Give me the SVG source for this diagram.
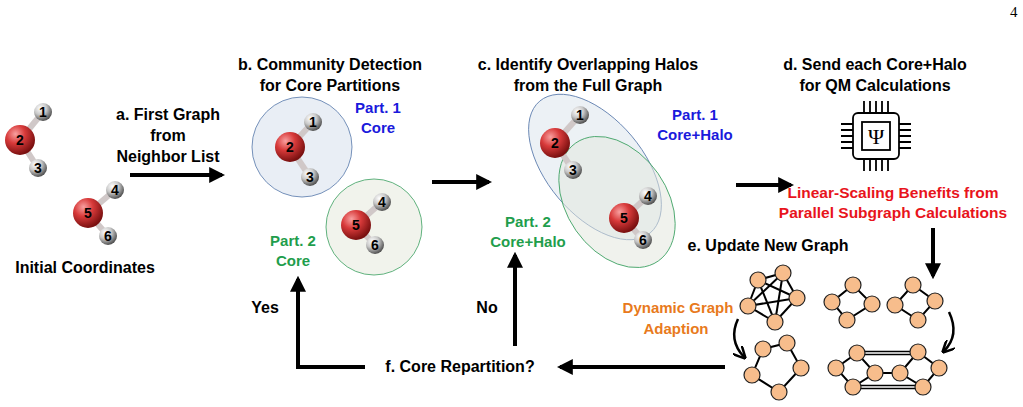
<svg xmlns="http://www.w3.org/2000/svg" width="1023" height="407" viewBox="0 0 1023 407">
<defs>
<radialGradient id="gO" cx="0.35" cy="0.3" r="0.7"><stop offset="0" stop-color="#f8a0a0"/><stop offset="0.45" stop-color="#d83a3a"/><stop offset="1" stop-color="#7a1010"/></radialGradient>
<radialGradient id="gH" cx="0.35" cy="0.3" r="0.7"><stop offset="0" stop-color="#ffffff"/><stop offset="0.5" stop-color="#c8c8c8"/><stop offset="1" stop-color="#555"/></radialGradient>
<marker id="ah" viewBox="0 0 10 10" refX="8" refY="5" markerWidth="4" markerHeight="4" orient="auto"><path d="M0,0 L10,5 L0,10 z" fill="#000"/></marker>
<marker id="ah2" viewBox="0 0 10 10" refX="8" refY="5" markerWidth="5" markerHeight="5" orient="auto"><path d="M0,0 L10,5 L0,10" fill="none" stroke="#000" stroke-width="2"/></marker>
</defs>
<style>
text{font-family:"Liberation Sans",Arial,sans-serif;font-weight:bold}
.t{font-size:16px;fill:#000;text-anchor:middle}
.b{font-size:15px;fill:#1a1adc;text-anchor:middle}
.g{font-size:15px;fill:#1f9e4c;text-anchor:middle}
.o{font-size:15px;fill:#e87a1c;text-anchor:middle}
.r{font-size:15.5px;fill:#e8141c;text-anchor:middle}
.O{fill:url(#gO)}
.H{fill:url(#gH)}
.n{font-size:14px;fill:#000;text-anchor:middle}
.bd{stroke:#d0c8c8;stroke-width:6}
.c line,.c path{stroke:#000;stroke-width:4;fill:none}
.gn circle{fill:#f7bd8c;stroke:#222;stroke-width:1.2}
.gn line{stroke:#000;stroke-width:2}
</style>
<text x="1010" y="17" style="font-family:'Liberation Serif',serif;font-weight:normal;font-size:15px">4</text>

<g id="nodeA">
<text class="t" x="168" y="120">a. First Graph</text>
<text class="t" x="168" y="141">from</text>
<text class="t" x="168" y="162">Neighbor List</text>
</g>
<g id="initial">
<line class="bd" x1="20" y1="140" x2="43" y2="112"/><line class="bd" x1="20" y1="140" x2="38" y2="168"/>
<line class="bd" x1="88" y1="213" x2="115" y2="190"/><line class="bd" x1="88" y1="213" x2="108" y2="236"/>
<circle class="H" cx="43" cy="112" r="9"/><text class="n" x="43" y="117">1</text>
<circle class="H" cx="38" cy="168" r="9"/><text class="n" x="38" y="173">3</text>
<circle class="O" cx="20" cy="140" r="15"/><text class="n" x="20" y="145">2</text>
<circle class="H" cx="115" cy="190" r="9"/><text class="n" x="115" y="195">4</text>
<circle class="H" cx="108" cy="236" r="9"/><text class="n" x="108" y="241">6</text>
<circle class="O" cx="88" cy="213" r="15"/><text class="n" x="88" y="218">5</text>
<text class="t" x="85" y="273">Initial Coordinates</text>
</g>

<g id="nodeB">
<text class="t" x="330" y="70">b. Community Detection</text>
<text class="t" x="330" y="91">for Core Partitions</text>
<circle cx="302" cy="147" r="50" fill="#e9eef5" stroke="#5577aa" stroke-width="0.8"/>
<circle cx="374" cy="227" r="48" fill="#f1f3ec" stroke="#3aa060" stroke-width="0.8"/>
<line class="bd" x1="290" y1="147" x2="313" y2="122"/><line class="bd" x1="290" y1="147" x2="310" y2="177"/>
<line class="bd" x1="356" y1="225" x2="382" y2="202"/><line class="bd" x1="356" y1="225" x2="375" y2="245"/>
<circle class="H" cx="313" cy="122" r="9"/><text class="n" x="313" y="127">1</text>
<circle class="H" cx="310" cy="177" r="9"/><text class="n" x="310" y="182">3</text>
<circle class="O" cx="290" cy="147" r="15"/><text class="n" x="290" y="152">2</text>
<circle class="H" cx="382" cy="202" r="9"/><text class="n" x="382" y="207">4</text>
<circle class="H" cx="375" cy="245" r="9"/><text class="n" x="375" y="250">6</text>
<circle class="O" cx="356" cy="225" r="15"/><text class="n" x="356" y="230">5</text>
<text class="b" x="378" y="113">Part. 1</text><text class="b" x="378" y="133">Core</text>
<text class="g" x="293" y="246">Part. 2</text><text class="g" x="293" y="266">Core</text>
</g>

<g id="nodeC">
<text class="t" x="588" y="70">c. Identify Overlapping Halos</text>
<text class="t" x="588" y="91">from the Full Graph</text>
<ellipse cx="595" cy="167" rx="86" ry="48" transform="rotate(50 595 167)" fill="#dfe7ef" fill-opacity="0.6" stroke="#5577aa" stroke-width="0.8"/>
<ellipse cx="617" cy="202" rx="72" ry="50" transform="rotate(55 617 202)" fill="#e4e8de" fill-opacity="0.55" stroke="#3aa060" stroke-width="0.8"/>
<line class="bd" x1="555" y1="143" x2="580" y2="115"/><line class="bd" x1="555" y1="143" x2="573" y2="170"/>
<line class="bd" x1="624" y1="218" x2="648" y2="196"/><line class="bd" x1="624" y1="218" x2="643" y2="240"/>
<circle class="H" cx="580" cy="115" r="9"/><text class="n" x="580" y="120">1</text>
<circle class="H" cx="573" cy="170" r="9"/><text class="n" x="573" y="175">3</text>
<circle class="O" cx="555" cy="143" r="15"/><text class="n" x="555" y="148">2</text>
<circle class="H" cx="648" cy="196" r="9"/><text class="n" x="648" y="201">4</text>
<circle class="H" cx="643" cy="240" r="9"/><text class="n" x="643" y="245">6</text>
<circle class="O" cx="624" cy="218" r="15"/><text class="n" x="624" y="223">5</text>
<text class="b" x="695" y="120">Part. 1</text><text class="b" x="695" y="140">Core+Halo</text>
<text class="g" x="528" y="227">Part. 2</text><text class="g" x="528" y="247">Core+Halo</text>
</g>

<g id="nodeD">
<text class="t" x="875" y="70">d. Send each Core+Halo</text>
<text class="t" x="875" y="91">for QM Calculations</text>
<g stroke="#000" stroke-width="1.8" fill="none">
<rect x="853" y="113" width="46" height="46" rx="5"/>
<rect x="862" y="122" width="28" height="28"/>
<path d="M864,101v12M870,101v12M876,101v12M882,101v12M888,101v12 M864,159v12M870,159v12M876,159v12M882,159v12M888,159v12 M841,124h12M841,130h12M841,136h12M841,142h12M841,148h12 M899,124h12M899,130h12M899,136h12M899,142h12M899,148h12"/>
</g>
<text x="876" y="144" style="font-family:'Liberation Serif',serif;font-weight:normal;font-size:22px" text-anchor="middle">Ψ</text>
<text class="r" x="893" y="198">Linear-Scaling Benefits from</text>
<text class="r" x="893" y="218">Parallel Subgraph Calculations</text>
</g>

<g id="nodeE">
<text class="t" x="768" y="251">e. Update New Graph</text>
<text class="o" x="678" y="313">Dynamic Graph</text>
<text class="o" x="676" y="334">Adaption</text>
<g class="gn">
<line x1="758" y1="280" x2="783" y2="273"/><line x1="758" y1="280" x2="797" y2="298"/><line x1="758" y1="280" x2="775" y2="322"/><line x1="758" y1="280" x2="748" y2="306"/>
<line x1="783" y1="273" x2="797" y2="298"/><line x1="783" y1="273" x2="775" y2="322"/><line x1="783" y1="273" x2="748" y2="306"/>
<line x1="797" y1="298" x2="775" y2="322"/><line x1="797" y1="298" x2="748" y2="306"/><line x1="775" y1="322" x2="748" y2="306"/>
<circle cx="758" cy="280" r="8"/><circle cx="783" cy="273" r="8"/><circle cx="797" cy="298" r="8"/><circle cx="775" cy="322" r="8"/><circle cx="748" cy="306" r="8"/>
<path d="M853,285L832,302L847,320L872,304Z" fill="none" stroke="#000" stroke-width="2"/>
<circle cx="853" cy="285" r="8"/><circle cx="832" cy="302" r="8"/><circle cx="872" cy="304" r="8"/><circle cx="847" cy="320" r="8"/>
<path d="M913,285L895,305L918,320L935,301Z" fill="none" stroke="#000" stroke-width="2"/>
<circle cx="913" cy="285" r="8"/><circle cx="895" cy="305" r="8"/><circle cx="935" cy="301" r="8"/><circle cx="918" cy="320" r="8"/>
<path d="M763,349L787,343L801,368L779,392L752,375Z" fill="none" stroke="#000" stroke-width="2"/>
<circle cx="763" cy="349" r="8"/><circle cx="787" cy="343" r="8"/><circle cx="801" cy="368" r="8"/><circle cx="779" cy="392" r="8"/><circle cx="752" cy="375" r="8"/>
<path d="M857,353L836,368L853,387L875,373Z M875,373L900,373 M918,352L900,373L923,387L939,368Z" fill="none" stroke="#000" stroke-width="2"/>
<path d="M857,351.5H918M857,354.5H918M853,385.5H923M853,388.5H923" stroke="#000" stroke-width="1.3"/>
<circle cx="857" cy="353" r="8"/><circle cx="836" cy="368" r="8"/><circle cx="875" cy="373" r="8"/><circle cx="853" cy="387" r="8"/>
<circle cx="900" cy="373" r="8"/><circle cx="918" cy="352" r="8"/><circle cx="939" cy="368" r="8"/><circle cx="923" cy="387" r="8"/>
</g>
</g>

<g id="nodeF">
<text class="t" x="460" y="372">f. Core Repartition?</text>
<text class="t" x="265" y="313">Yes</text>
<text class="t" x="487" y="313">No</text>
</g>

<g id="connectors" class="c">
<line x1="130" y1="175" x2="222" y2="175" marker-end="url(#ah)"/>
<line x1="432" y1="182" x2="489" y2="182" marker-end="url(#ah)"/>
<line x1="736" y1="185" x2="791" y2="185" marker-end="url(#ah)"/>
<line x1="933" y1="228" x2="933" y2="276" marker-end="url(#ah)"/>
<line x1="725" y1="367" x2="560" y2="367" marker-end="url(#ah)"/>
<path d="M365,367H298V279" marker-end="url(#ah)"/>
<line x1="515" y1="346" x2="515" y2="255" marker-end="url(#ah)"/>
<path d="M738,319Q728,340 744,357" style="stroke-width:2.5" marker-end="url(#ah2)"/>
<path d="M949,312Q960,335 944,351" style="stroke-width:2.5" marker-end="url(#ah2)"/>
</g>
</svg>
